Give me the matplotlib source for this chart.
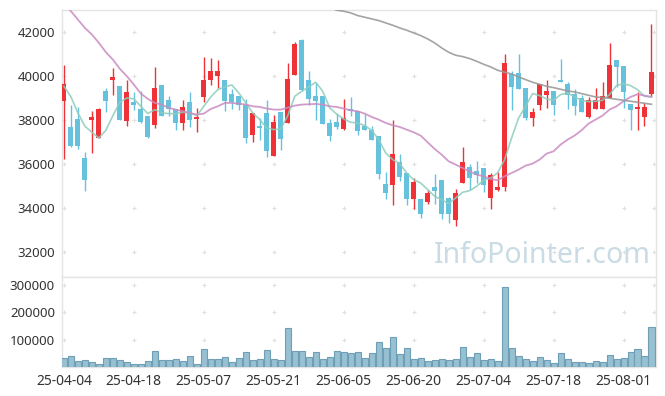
import numpy as np
import matplotlib.pyplot as plt

plt.rcParams['font.family'] = ['Noto Sans', 'DejaVu Sans']

# daily OHLC (index = trading day)
opens = [38849, 37697, 38061, 36288, 37985, 37197, 39333, 39803, 39561, 37940,
         38834, 38515, 38197, 37758, 39606, 38924, 38500, 37849, 38834, 38030,
         39031, 39803, 39985, 39833, 39197, 39106, 38697, 37303, 37697, 38318,
         36379, 38379, 37849, 40030, 41652, 39833, 39106, 39106, 37864, 37924,
         37576, 38500, 38394, 37743, 37530, 37258, 35106, 35031, 36106, 35606,
         34394, 34424, 34258, 34970, 35288, 34455, 33440, 35122, 35864, 35667,
         35818, 34440, 34834, 34955, 40091, 40136, 39470, 38076, 38697, 39152,
         39333, 39833, 39652, 39197, 39000, 38152, 38485, 38485, 38985, 40742,
         40470, 38743, 38485, 38121, 39167]
highs = [40515, 38667, 38591, 36546, 38424, 38540, 39455, 40364, 39561, 39818,
         39273, 39333, 38197, 40409, 39606, 39106, 38500, 38894, 39273, 38546,
         40864, 40803, 40727, 39833, 39424, 39106, 38955, 38318, 38091, 38924,
         38212, 38379, 40591, 41545, 41682, 40212, 39682, 39106, 38045, 38318,
         38955, 39050, 38394, 38288, 37743, 37258, 35637, 38015, 36470, 35606,
         35349, 34424, 34834, 35531, 35288, 34500, 34879, 36788, 36015, 36152,
         35818, 35591, 35652, 41015, 40243, 41015, 39470, 38530, 39652, 39833,
         39333, 40773, 39742, 39409, 39152, 39046, 39455, 39727, 41500, 40742,
         40470, 38743, 39258, 38758, 42364]
lows = [36228, 36758, 36682, 34758, 36500, 37180, 38364, 39121, 37985, 37712,
        38440, 37848, 37197, 37637, 38167, 38197, 37530, 37561, 37682, 37455,
        38818, 39576, 39455, 38409, 38515, 38470, 36955, 37000, 37076, 36303,
        36349, 36652, 37849, 40030, 39318, 38697, 38015, 37834, 37046, 37576,
        37530, 38170, 37318, 37530, 37076, 35334, 34409, 34152, 35212, 34122,
        33955, 33546, 34182, 34197, 33500, 33318, 33167, 35122, 34834, 35137,
        34712, 33955, 34758, 34758, 38440, 39424, 38015, 37712, 38455, 38546,
        38227, 39712, 38500, 38227, 38349, 38091, 38485, 38485, 38985, 39500,
        38530, 37561, 37561, 37712, 39076]
closes = [39652, 36803, 36803, 35258, 38152, 38515, 38849, 39970, 38015, 39288,
          38697, 37894, 37212, 39470, 38197, 38500, 37864, 38591, 37985, 38106,
          39833, 40243, 40243, 38849, 38834, 38667, 37167, 38318, 37621, 36576,
          37909, 37137, 39879, 41470, 39349, 38955, 38849, 37834, 37258, 37667,
          38106, 38420, 37485, 37530, 37076, 35530, 34667, 36470, 35394, 34394,
          35197, 33728, 34697, 34758, 33712, 33712, 34697, 36106, 35364, 35485,
          35031, 35500, 34955, 40591, 39485, 39424, 38091, 38364, 39652, 39333,
          38667, 39712, 39121, 38621, 38349, 38924, 38924, 39106, 40515, 40394,
          39258, 38440, 38561, 38606, 40167]
volumes = [32500, 41250, 22500, 26250, 18750, 11250, 33750, 33750, 26250, 18750,
           11250, 11250, 22500, 60000, 26250, 26250, 30000, 22500, 41250, 11250,
           67500, 30000, 30000, 37500, 18750, 33750, 56250, 26250, 30000, 63750,
           30000, 26250, 142500, 60000, 60000, 37500, 56250, 30000, 37500, 60000,
           56250, 52500, 56250, 32500, 52500, 90000, 70000, 108750, 47500, 70000,
           30000, 32500, 22500, 26250, 30000, 26250, 30000, 75000, 36250, 52500,
           26250, 30000, 22500, 295000, 70000, 41250, 30000, 22500, 37500, 26250,
           13750, 52500, 30000, 18750, 18750, 15000, 22500, 18750, 45000, 30000,
           32500, 56250, 67500, 41250, 146250]

# moving averages
ma5 = [39530, 39046, 38318, 37712, 37440, 37182, 37530, 38197, 38803, 39000,
       38955, 38621, 38288, 38470, 38318, 38288, 38288, 38349, 38318, 38197,
       38621, 39046, 39379, 39500, 39591, 39227, 38773, 38318, 38015, 37636,
       37560, 37590, 38197, 39076, 39303, 39500, 39712, 39303, 38546, 38258,
       38045, 37894, 37864, 37743, 37530, 37106, 36500, 36197, 36015, 35591,
       35288, 35137, 34834, 34530, 34379, 34197, 34455, 34712, 34788, 34985,
       35258, 35364, 35591, 36197, 37182, 38091, 38621, 39197, 39106, 38955,
       38894, 39152, 39227, 39046, 38894, 38834, 38849, 38894, 39152, 39561,
       39652, 39561, 39379, 39076, 39046]
ma20 = [43300, 42940, 42560, 42180, 41880, 41500, 41076, 40742, 40318, 39985,
        39606, 39197, 38955, 38773, 38697, 38546, 38470, 38394, 38318, 38243,
        38288, 38500, 38621, 38773, 38773, 38743, 38697, 38621, 38591, 38515,
        38470, 38470, 38561, 38652, 38697, 38712, 38727, 38697, 38621, 38591,
        38515, 38440, 38394, 38288, 38136, 38015, 37864, 37758, 37682, 37561,
        37440, 37288, 36985, 36682, 36424, 36121, 35970, 35818, 35667, 35515,
        35440, 35318, 35258, 35440, 35591, 35742, 35924, 36015, 36197, 36470,
        36576, 36879, 37106, 37288, 37530, 37834, 38015, 38197, 38470, 38621,
        38849, 39046, 39167, 39106, 39046]
ma60 = [np.nan] * 38 + [
        43100, 42985, 42940, 42864, 42742, 42667, 42591, 42515, 42409, 42303,
        42182, 42076, 41955, 41833, 41682, 41500, 41273, 41076, 40940, 40879,
        40788, 40667, 40530, 40409, 40258, 40167, 40091, 39955, 39833, 39712,
        39621, 39530, 39470, 39394, 39318, 39273, 39197, 39121, 39046, 39015,
        38985, 38940, 38894, 38849, 38803, 38758, 38712]

tick_pos = [0, 10, 20, 30, 40, 50, 60, 70, 80]
tick_labels = ['25-04-04', '25-04-18', '25-05-07', '25-05-21', '25-06-05',
               '25-06-20', '25-07-04', '25-07-18', '25-08-01']
price_ticks = [32000, 34000, 36000, 38000, 40000, 42000]
vol_ticks = [100000, 200000, 300000]

UP = '#ee3237'
DOWN = '#66c2dc'
GRID = '#e0e0e0'
SPINE = '#e4e4e4'

fig = plt.figure(figsize=(6.65, 3.96), dpi=100)
ax = fig.add_axes([0.093, 0.3005, 0.893, 0.6745])
axv = fig.add_axes([0.093, 0.0732, 0.893, 0.2273])

x = np.arange(len(closes))
o = np.array(opens, float)
c = np.array(closes, float)
up = c >= o
colors = np.where(up, UP, DOWN)

# wicks and bodies
ax.vlines(x, lows, highs, colors=colors, linewidth=1, zorder=2)
body_lo = np.minimum(o, c)
body_h = np.maximum(np.abs(c - o), 90)
ax.bar(x, body_h, bottom=body_lo, width=0.72, color=colors, linewidth=0, zorder=3)

# moving averages
ax.plot(x, ma5, color='#8ccdbd', lw=1.2, alpha=0.85, zorder=4)
ax.plot(x, ma20, color='#c98bc2', lw=1.3, alpha=0.85, zorder=4)
ax.plot(x, ma60, color='#9a9a9a', lw=1.2, alpha=0.9, zorder=4)

# volume
axv.bar(x, volumes, width=0.86, color='#97c0d1', edgecolor='#6f9fb6', linewidth=0.8, zorder=3)

cross_x = tick_pos + [84.3]
for a, yt in ((ax, price_ticks), (axv, vol_ticks)):
    a.set_xlim(-0.3, 84.6)
    gx, gy = np.meshgrid(cross_x, yt)
    a.scatter(gx.ravel(), gy.ravel(), marker='+', s=12, color=GRID, linewidths=0.8, zorder=1)
    a.set_yticks(yt)
    a.set_yticklabels([str(v) for v in yt], fontsize=9.5, color='#333333')
    a.tick_params(length=0, pad=5)
    for s in a.spines.values():
        s.set_color(SPINE)
        s.set_linewidth(1)

ax.set_ylim(30864, 43000)
ax.set_xticks([])
axv.set_ylim(0, 330000)
axv.set_xticks(tick_pos)
axv.set_xticklabels(tick_labels, fontsize=10, color='#333333')

fig.text(0.815, 0.356, 'InfoPointer.com', fontsize=20.5, color='#c9dbe4',
         ha='center', va='center', zorder=0)

fig.savefig('out.png', dpi=100, facecolor='white')
